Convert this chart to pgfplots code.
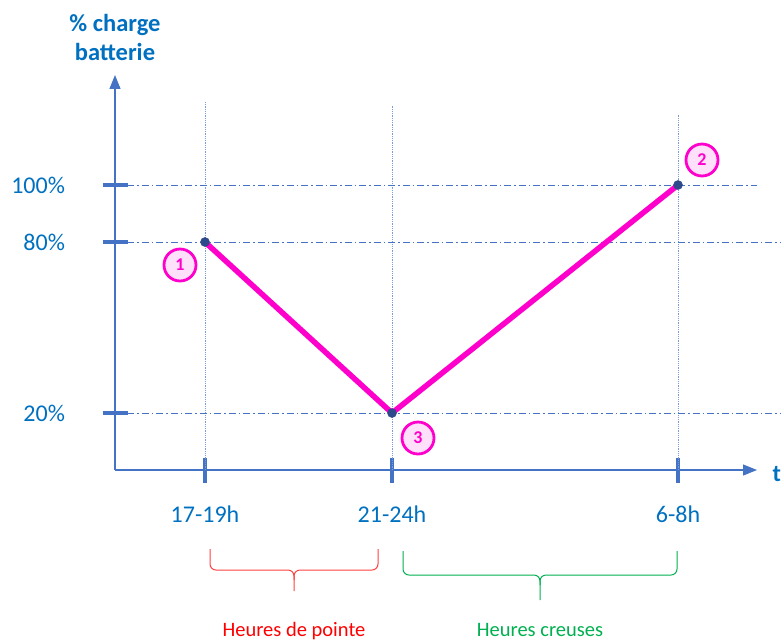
\documentclass[border=0pt]{standalone}
\usepackage{pgfplots}
\pgfplotsset{compat=1.18}
\usepackage{fontspec}
\setmainfont{Carlito}
\usetikzlibrary{arrows.meta}
\definecolor{axblue}{HTML}{4472C4}
\definecolor{txtblue}{HTML}{0070C0}
\definecolor{mag}{HTML}{FF00CC}
\definecolor{pinkfill}{HTML}{FFE0FA}
\definecolor{dotc}{HTML}{2F4A8A}
\definecolor{red1}{HTML}{FF4040}
\definecolor{green1}{HTML}{00B050}
\begin{document}
\begin{tikzpicture}
\path[use as bounding box] (0,0) rectangle (781pt,-641pt);
\begin{axis}[
 at={(115pt,-470pt)}, anchor=origin,
 x=1pt, y=2.85pt,
 xmin=0, xmax=642, ymin=0, ymax=138.6,
 axis lines=left,
 axis line style={axblue, line width=1.2pt, -{Triangle[length=14pt,width=11pt]}},
 clip=false,
 xtick={90,277,563}, xticklabels={17-19h,21-24h,6-8h},
 ytick={20,80,100}, yticklabels={20\%,80\%,100\%},
 tick align=center, major tick length=25pt,
 tick style={axblue, line width=3.5pt},
 /pgf/number format/assume math mode=true,
 ticklabel style={font=\fontsize{24}{28}\selectfont, text=txtblue},
 yticklabel style={anchor=east, xshift=-34pt},
 xticklabel style={anchor=base, yshift=-40pt},
]
% vertical dotted guides
\addplot[axblue!70, line width=0.8pt, densely dotted, forget plot] coordinates {(90,0) (90,129)};
\addplot[axblue!70, line width=0.8pt, densely dotted, forget plot] coordinates {(277,0) (277,128)};
\addplot[axblue!70, line width=0.8pt, densely dotted, forget plot] coordinates {(563,0) (563,125)};
% horizontal dash-dot guides
\addplot[axblue, line width=0.8pt, dash pattern=on 7pt off 3pt on 1.5pt off 3pt, forget plot] coordinates {(12,100) (642,100)};
\addplot[axblue, line width=0.8pt, dash pattern=on 7pt off 3pt on 1.5pt off 3pt, forget plot] coordinates {(12,80) (666,80)};
\addplot[axblue, line width=0.8pt, dash pattern=on 7pt off 3pt on 1.5pt off 3pt, forget plot] coordinates {(12,20) (666,20)};
% battery charge
\addplot[mag, line width=5.5pt, mark=*, mark size=4.5pt, mark options={fill=dotc, draw=dotc, line width=0.5pt}] coordinates {(90,80) (277,20) (563,100)};
\end{axis}
% titles
\node[font=\fontsize{24.5}{30}\selectfont\bfseries, text=txtblue, anchor=base] at (115pt,-31pt) {\% charge};
\node[font=\fontsize{24.5}{30}\selectfont\bfseries, text=txtblue, anchor=base] at (115pt,-60pt) {batterie};
\node[font=\fontsize{24}{30}\selectfont\bfseries, text=txtblue, anchor=base west] at (769pt,-481pt) {t};
% circled numbers
\foreach \p/\n in {{(180pt,-265pt)}/1,{(702pt,-160pt)}/2,{(418pt,-438pt)}/3}{
 \node[circle, draw=mag, line width=2.8pt, fill=pinkfill, minimum size=32pt, inner sep=0pt, text=mag, font=\bfseries\fontsize{18}{18}\selectfont] at \p {\n};
}
% braces
\draw[red1, line width=1pt, rounded corners=6pt] (210pt,-549pt) -- (210pt,-570pt) -- (294pt,-570pt) -- (294pt,-591pt);
\draw[red1, line width=1pt, rounded corners=6pt] (378pt,-549pt) -- (378pt,-570pt) -- (294pt,-570pt) -- (294pt,-580pt);
\draw[green1, line width=1pt, rounded corners=6pt] (403pt,-551pt) -- (403pt,-575pt) -- (540pt,-575pt) -- (540pt,-600pt);
\draw[green1, line width=1pt, rounded corners=6pt] (677pt,-551pt) -- (677pt,-575pt) -- (540pt,-575pt) -- (540pt,-585pt);
\node[font=\fontsize{20.5}{24}\selectfont, text=red, anchor=base] at (294pt,-636pt) {Heures de pointe};
\node[font=\fontsize{20.5}{24}\selectfont, text=green1, anchor=base] at (540pt,-636pt) {Heures creuses};
\end{tikzpicture}
\end{document}
